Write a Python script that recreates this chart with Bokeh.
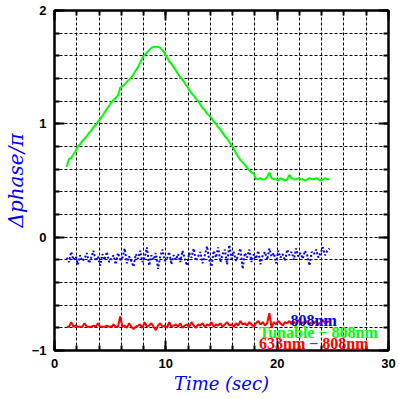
from bokeh.plotting import figure
from bokeh.models import Range1d, FixedTicker, LinearAxis, Label, Grid
from bokeh.embed import file_html
from bokeh.resources import INLINE

# ---- data ----
time_s = [
    1.1, 1.3, 1.5, 1.7, 1.9, 2.1, 2.3, 2.5, 2.7, 2.9,
    3.1, 3.3, 3.5, 3.7, 3.9, 4.1, 4.3, 4.5, 4.7, 4.9,
    5.1, 5.3, 5.5, 5.7, 5.9, 6.1, 6.3, 6.5, 6.7, 6.9,
    7.1, 7.3, 7.5, 7.7, 7.9, 8.1, 8.3, 8.5, 8.7, 8.9,
    9.1, 9.3, 9.5, 9.7, 9.9, 10.1, 10.3, 10.5, 10.7, 10.9,
    11.1, 11.3, 11.5, 11.7, 11.9, 12.1, 12.3, 12.5, 12.7, 12.9,
    13.1, 13.3, 13.5, 13.7, 13.9, 14.1, 14.3, 14.5, 14.7, 14.9,
    15.1, 15.3, 15.5, 15.7, 15.9, 16.1, 16.3, 16.5, 16.7, 16.9,
    17.1, 17.3, 17.5, 17.7, 17.9, 18.1, 18.3, 18.5, 18.7, 18.9,
    19.1, 19.3, 19.5, 19.7, 19.9, 20.1, 20.3, 20.5, 20.7, 20.9,
    21.1, 21.3, 21.5, 21.7, 21.9, 22.1, 22.3, 22.5, 22.7, 22.9,
    23.1, 23.3, 23.5, 23.7, 23.9, 24.1, 24.3, 24.5, 24.7,
]

tunable_808 = [
    0.62, 0.69, 0.70, 0.73, 0.76, 0.80, 0.82, 0.85, 0.87, 0.89,
    0.92, 0.94, 0.97, 0.99, 1.02, 1.04, 1.07, 1.10, 1.13, 1.16,
    1.19, 1.21, 1.23, 1.25, 1.32, 1.33, 1.35, 1.37, 1.39, 1.41,
    1.44, 1.47, 1.50, 1.54, 1.58, 1.61, 1.63, 1.65, 1.67, 1.68,
    1.68, 1.68, 1.67, 1.65, 1.62, 1.59, 1.55, 1.53, 1.50, 1.47,
    1.44, 1.41, 1.39, 1.36, 1.33, 1.30, 1.27, 1.25, 1.22, 1.20,
    1.17, 1.14, 1.12, 1.09, 1.07, 1.05, 1.02, 1.00, 0.97, 0.95,
    0.92, 0.89, 0.87, 0.84, 0.81, 0.78, 0.74, 0.71, 0.68, 0.66,
    0.64, 0.61, 0.59, 0.57, 0.56, 0.51, 0.51, 0.52, 0.51, 0.51,
    0.53, 0.57, 0.52, 0.51, 0.51, 0.50, 0.52, 0.51, 0.50, 0.51,
    0.55, 0.52, 0.51, 0.51, 0.52, 0.51, 0.51, 0.50, 0.51, 0.52,
    0.51, 0.51, 0.52, 0.51, 0.50, 0.51, 0.52, 0.51, 0.51,
]

nm808 = [
    -0.18, -0.22, -0.13, -0.20, -0.17, -0.24, -0.16, -0.21, -0.19, -0.14,
    -0.23, -0.18, -0.12, -0.21, -0.17, -0.25, -0.15, -0.20, -0.13, -0.22,
    -0.19, -0.16, -0.24, -0.14, -0.20, -0.18, -0.10, -0.23, -0.17, -0.21,
    -0.26, -0.15, -0.19, -0.12, -0.22, -0.18, -0.09, -0.25, -0.16, -0.20,
    -0.14, -0.28, -0.17, -0.11, -0.21, -0.19, -0.13, -0.24, -0.16, -0.20,
    -0.15, -0.22, -0.12, -0.19, -0.25, -0.14, -0.18, -0.10, -0.21, -0.17,
    -0.13, -0.23, -0.16, -0.08, -0.20, -0.26, -0.12, -0.18, -0.09, -0.22,
    -0.15, -0.11, -0.24, -0.07, -0.19, -0.13, -0.21, -0.16, -0.10, -0.28,
    -0.14, -0.18, -0.11, -0.22, -0.15, -0.19, -0.12, -0.24, -0.16, -0.13,
    -0.20, -0.10, -0.17, -0.14, -0.23, -0.12, -0.18, -0.15, -0.21, -0.11,
    -0.16, -0.13, -0.20, -0.10, -0.17, -0.14, -0.19, -0.12, -0.16, -0.25,
    -0.13, -0.15, -0.11, -0.18, -0.14, -0.09, -0.16, -0.12, -0.10,
]

nm633_808 = [
    -0.79, -0.79, -0.75, -0.79, -0.78, -0.79, -0.79, -0.79, -0.76, -0.79,
    -0.79, -0.79, -0.78, -0.79, -0.76, -0.79, -0.79, -0.79, -0.78, -0.79,
    -0.79, -0.77, -0.79, -0.79, -0.70, -0.79, -0.78, -0.80, -0.76, -0.79,
    -0.81, -0.79, -0.78, -0.77, -0.80, -0.75, -0.79, -0.78, -0.76, -0.79,
    -0.82, -0.78, -0.76, -0.79, -0.78, -0.80, -0.75, -0.79, -0.78, -0.77,
    -0.79, -0.76, -0.80, -0.78, -0.77, -0.79, -0.75, -0.78, -0.80, -0.77,
    -0.78, -0.76, -0.79, -0.77, -0.78, -0.75, -0.79, -0.77, -0.78, -0.76,
    -0.79, -0.77, -0.75, -0.78, -0.77, -0.79, -0.76, -0.78, -0.74, -0.77,
    -0.76, -0.78, -0.75, -0.77, -0.79, -0.76, -0.74, -0.77, -0.75, -0.78,
    -0.76, -0.67, -0.80, -0.75, -0.77, -0.74, -0.76, -0.78, -0.75, -0.76,
    -0.74, -0.77, -0.75, -0.76, -0.73, -0.77, -0.75, -0.76, -0.74, -0.77,
    -0.75, -0.76, -0.74, -0.77, -0.75, -0.73, -0.76, -0.75, -0.74,
]

x_major = [0, 10, 20, 30]
x_minor = [0, 2, 4, 6, 8, 10, 12, 14, 16, 18, 20, 22, 24, 26, 28, 30]
y_major = [-1, 0, 1, 2]
y_minor = [-1, -0.8, -0.6, -0.4, -0.2, 0, 0.2, 0.4, 0.6, 0.8, 1,
           1.2, 1.4, 1.6, 1.8, 2]
series_labels = ["808nm", "Tunable \u2212 808nm", "633nm \u2212 808nm"]
x_title = "Time (sec)"
y_title = "\u0394phase/\u03c0"

GREEN = "#00ff00"
BLUE = "#0000ff"
RED = "#ff0000"

p = figure(width=398, height=398, output_backend="svg", toolbar_location=None,
           x_range=Range1d(0, 30), y_range=Range1d(-1, 2),
           min_border_left=50, min_border_right=10, min_border_top=10,
           min_border_bottom=48, x_axis_type=None, y_axis_type=None)
p.background_fill_color = "white"
p.border_fill_color = "white"
p.outline_line_color = "black"
p.outline_line_width = 2


def style_axis(ax, ticks, minor, labels=True):
    ax.ticker = FixedTicker(ticks=ticks, minor_ticks=minor)
    ax.axis_line_color = "black"
    ax.axis_line_width = 2
    ax.major_tick_in = 10
    ax.major_tick_out = 0
    ax.minor_tick_in = 5
    ax.minor_tick_out = 0
    ax.major_tick_line_width = 2
    ax.minor_tick_line_width = 2
    if labels:
        ax.major_label_text_font = "Liberation Sans"
        ax.major_label_text_font_style = "bold"
        ax.major_label_text_font_size = "13px"
        ax.major_label_text_color = "black"
        ax.major_label_standoff = 8
        ax.axis_label_text_font = "DejaVu Serif"
        ax.axis_label_text_font_style = "italic"
        ax.axis_label_text_font_size = "18px"
        ax.axis_label_text_color = BLUE
    else:
        ax.major_label_overrides = {t: "" for t in ticks}
        ax.major_label_standoff = 0


xb = LinearAxis(axis_label=x_title)
style_axis(xb, x_major, x_minor)
xb.axis_label_standoff = 2
p.add_layout(xb, "below")
yl = LinearAxis(axis_label=y_title)
style_axis(yl, y_major, y_minor)
yl.major_label_overrides = {-1: "\u22121"}
yl.axis_label_text_font_size = "20px"
yl.axis_label_standoff = 1
p.add_layout(yl, "left")
xt = LinearAxis()
style_axis(xt, x_major, x_minor, labels=False)
p.add_layout(xt, "above")
yr = LinearAxis()
style_axis(yr, y_major, y_minor, labels=False)
p.add_layout(yr, "right")

for dim, tk in ((0, x_minor), (1, y_minor)):
    g = Grid(dimension=dim, ticker=FixedTicker(ticks=tk))
    g.grid_line_color = "black"
    g.grid_line_width = 1
    g.grid_line_dash = "3 2"
    p.add_layout(g)

p.line(time_s, tunable_808, line_color=GREEN, line_width=2)
p.line(time_s, nm808, line_color=BLUE, line_width=2, line_dash="2 2")
p.line(time_s, nm633_808, line_color=RED, line_width=2)

# series labels
for txt, col, lx, ly in [(series_labels[0], BLUE, 21.2, -0.735),
                         (series_labels[1], GREEN, 18.37, -0.841),
                         (series_labels[2], RED, 18.37, -0.938)]:
    p.add_layout(Label(x=lx, y=ly, text=txt, text_color=col,
                       text_font="Liberation Serif", text_font_style="bold",
                       text_font_size="16px", text_baseline="alphabetic",
                       text_align="left"))

open("out.html", "w").write(file_html(p, INLINE))
